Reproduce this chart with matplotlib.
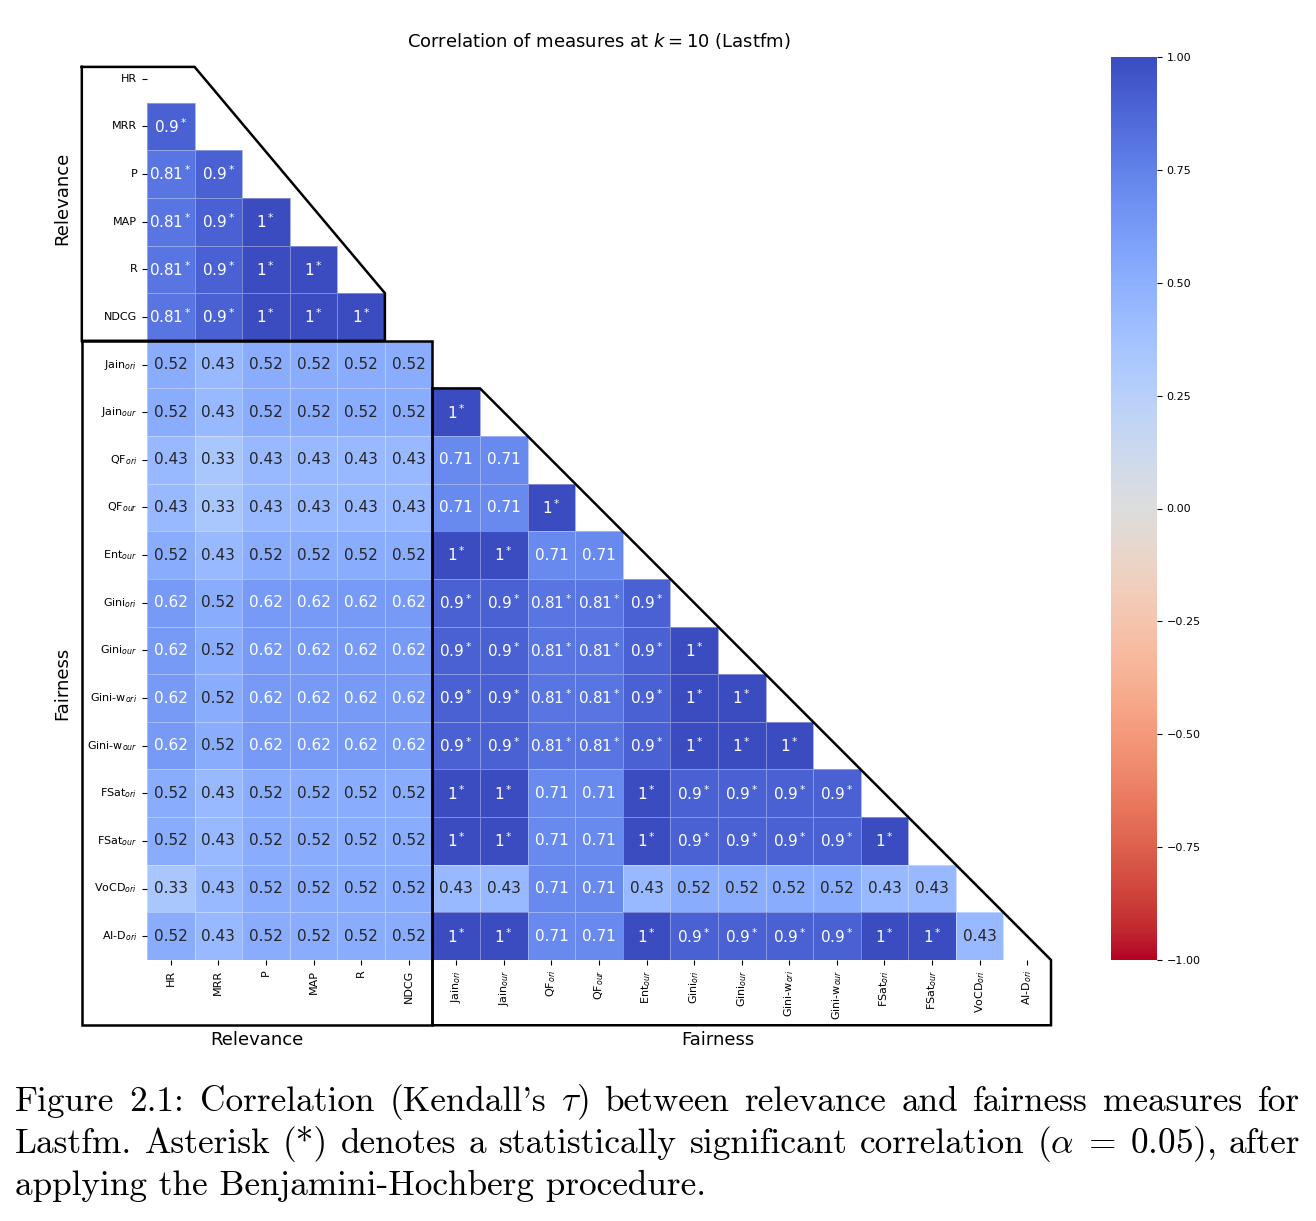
import numpy as np
import matplotlib
matplotlib.use('Agg')
import matplotlib.pyplot as plt
import seaborn as sns

# 측정 지표 이름 (relevance 6개 + fairness 13개)
measures = ['HR', 'MRR', 'P', 'MAP', 'R', 'NDCG',
            'Jain$_{ori}$', 'Jain$_{our}$', 'QF$_{ori}$', 'QF$_{our}$', 'Ent$_{our}$',
            'Gini$_{ori}$', 'Gini$_{our}$', 'Gini-w$_{ori}$', 'Gini-w$_{our}$',
            'FSat$_{ori}$', 'FSat$_{our}$', 'VoCD$_{ori}$', 'AI-D$_{ori}$']
n_rel = 6

# Kendall tau 하삼각 행렬 (행별)
tau_rows = [
    [],
    [0.9],
    [0.81, 0.9],
    [0.81, 0.9, 1],
    [0.81, 0.9, 1, 1],
    [0.81, 0.9, 1, 1, 1],
    [0.52, 0.43, 0.52, 0.52, 0.52, 0.52],
    [0.52, 0.43, 0.52, 0.52, 0.52, 0.52, 1],
    [0.43, 0.33, 0.43, 0.43, 0.43, 0.43, 0.71, 0.71],
    [0.43, 0.33, 0.43, 0.43, 0.43, 0.43, 0.71, 0.71, 1],
    [0.52, 0.43, 0.52, 0.52, 0.52, 0.52, 1, 1, 0.71, 0.71],
    [0.62, 0.52, 0.62, 0.62, 0.62, 0.62, 0.9, 0.9, 0.81, 0.81, 0.9],
    [0.62, 0.52, 0.62, 0.62, 0.62, 0.62, 0.9, 0.9, 0.81, 0.81, 0.9, 1],
    [0.62, 0.52, 0.62, 0.62, 0.62, 0.62, 0.9, 0.9, 0.81, 0.81, 0.9, 1, 1],
    [0.62, 0.52, 0.62, 0.62, 0.62, 0.62, 0.9, 0.9, 0.81, 0.81, 0.9, 1, 1, 1],
    [0.52, 0.43, 0.52, 0.52, 0.52, 0.52, 1, 1, 0.71, 0.71, 1, 0.9, 0.9, 0.9, 0.9],
    [0.52, 0.43, 0.52, 0.52, 0.52, 0.52, 1, 1, 0.71, 0.71, 1, 0.9, 0.9, 0.9, 0.9, 1],
    [0.33, 0.43, 0.52, 0.52, 0.52, 0.52, 0.43, 0.43, 0.71, 0.71, 0.43, 0.52, 0.52, 0.52, 0.52, 0.43, 0.43],
    [0.52, 0.43, 0.52, 0.52, 0.52, 0.52, 1, 1, 0.71, 0.71, 1, 0.9, 0.9, 0.9, 0.9, 1, 1, 0.43],
]

# 유의성 (Benjamini-Hochberg 후, 1 = 유의함)
sig_rows = [
    [],
    [1],
    [1, 1],
    [1, 1, 1],
    [1, 1, 1, 1],
    [1, 1, 1, 1, 1],
    [0, 0, 0, 0, 0, 0],
    [0, 0, 0, 0, 0, 0, 1],
    [0, 0, 0, 0, 0, 0, 0, 0],
    [0, 0, 0, 0, 0, 0, 0, 0, 1],
    [0, 0, 0, 0, 0, 0, 1, 1, 0, 0],
    [0, 0, 0, 0, 0, 0, 1, 1, 1, 1, 1],
    [0, 0, 0, 0, 0, 0, 1, 1, 1, 1, 1, 1],
    [0, 0, 0, 0, 0, 0, 1, 1, 1, 1, 1, 1, 1],
    [0, 0, 0, 0, 0, 0, 1, 1, 1, 1, 1, 1, 1, 1],
    [0, 0, 0, 0, 0, 0, 1, 1, 0, 0, 1, 1, 1, 1, 1],
    [0, 0, 0, 0, 0, 0, 1, 1, 0, 0, 1, 1, 1, 1, 1, 1],
    [0, 0, 0, 0, 0, 0, 0, 0, 0, 0, 0, 0, 0, 0, 0, 0, 0],
    [0, 0, 0, 0, 0, 0, 1, 1, 0, 0, 1, 1, 1, 1, 1, 1, 1, 0],
]

caption_lines = [
    ["Figure", "2.1:", "Correlation", "(Kendall's", "$\\tau$)", "between", "relevance",
     "and", "fairness", "measures", "for"],
    ["Lastfm.", "Asterisk", "(*)", "denotes", "a", "statistically", "significant",
     "correlation", "($\\alpha\\;=\\;0.05$),", "after"],
    ["applying the Benjamini-Hochberg procedure."],
]

n = len(measures)
mat = np.full((n, n), np.nan)
annot = np.full((n, n), '', dtype=object)
for i, row in enumerate(tau_rows):
    for j, v in enumerate(row):
        mat[i, j] = v
        txt = f'{v:.2g}'
        annot[i, j] = txt + '$^*$' if sig_rows[i][j] else txt
mask = np.triu(np.ones((n, n), dtype=bool))

W, H = 1316, 1221
fig = plt.figure(figsize=(W / 100, H / 100), dpi=100)
ax = fig.add_axes([147 / W, 1 - 960 / H, 904 / W, 905 / H])
cax = fig.add_axes([1111 / W, 1 - 960 / H, 46 / W, 903 / H])

sns.heatmap(mat, mask=mask, cmap='coolwarm_r', vmin=-1, vmax=1,
            annot=annot, fmt='', annot_kws={'size': 11},
            linewidths=0.5, linecolor=(1, 1, 1, 0.35),
            xticklabels=measures, yticklabels=measures,
            ax=ax, cbar_ax=cax)
ax.tick_params(axis='both', labelsize=8)
ax.set_xticklabels(measures, rotation=90)
ax.set_yticklabels(measures, rotation=0)
ax.set_title('Correlation of measures at $k = 10$ (Lastfm)', fontsize=13, pad=6)

cbar = ax.collections[0].colorbar
cbar.set_ticks([-1, -0.75, -0.5, -0.25, 0, 0.25, 0.5, 0.75, 1])
cbar.ax.tick_params(labelsize=8)

# 그룹 외곽선
left = -1.37
bottom = 20.37
rel_poly = [(left, 0.25), (1, 0.25), (n_rel - 1, n_rel - 1), (n_rel - 1, n_rel),
            (left, n_rel), (left, 0.25)]
rel_block = [(left, n_rel), (n_rel, n_rel), (n_rel, bottom), (left, bottom), (left, n_rel)]
fair_poly = [(n_rel, n_rel + 1), (n_rel + 1, n_rel + 1), (n, n), (n, bottom),
             (n_rel, bottom), (n_rel, n_rel + 1)]
for poly in [rel_poly, rel_block, fair_poly]:
    xs, ys = zip(*poly)
    ax.plot(xs, ys, color='black', lw=1.8, clip_on=False, solid_joinstyle='miter')

ax.text(-1.79, 3.0, 'Relevance', rotation=90, ha='center', va='center', fontsize=13)
ax.text(-1.79, (n_rel + bottom) / 2, 'Fairness', rotation=90, ha='center', va='center', fontsize=13)
ax.text((left + n_rel) / 2, 20.67, 'Relevance', ha='center', va='center', fontsize=13)
ax.text(12.0, 20.67, 'Fairness', ha='center', va='center', fontsize=13)

# 캡션 (양쪽 정렬)
plt.rcParams['mathtext.fontset'] = 'cm'
cap_kw = dict(family='cmr10', fontsize=25.4, va='baseline', ha='left', math_fontfamily='cm')
renderer = fig.canvas.get_renderer()
baselines = [1111, 1153, 1195]
x0, x1 = 15, 1300
for line, yb in zip(caption_lines, baselines):
    texts = [fig.text(0, 1 - yb / H, w, **cap_kw) for w in line]
    if len(texts) == 1:
        texts[0].set_x(x0 / W)
        continue
    widths = [t.get_window_extent(renderer).width for t in texts]
    gap = (x1 - x0 - sum(widths)) / (len(texts) - 1)
    x = x0
    for t, w in zip(texts, widths):
        t.set_x(x / W)
        x += w + gap

fig.savefig('out.png', dpi=100)
